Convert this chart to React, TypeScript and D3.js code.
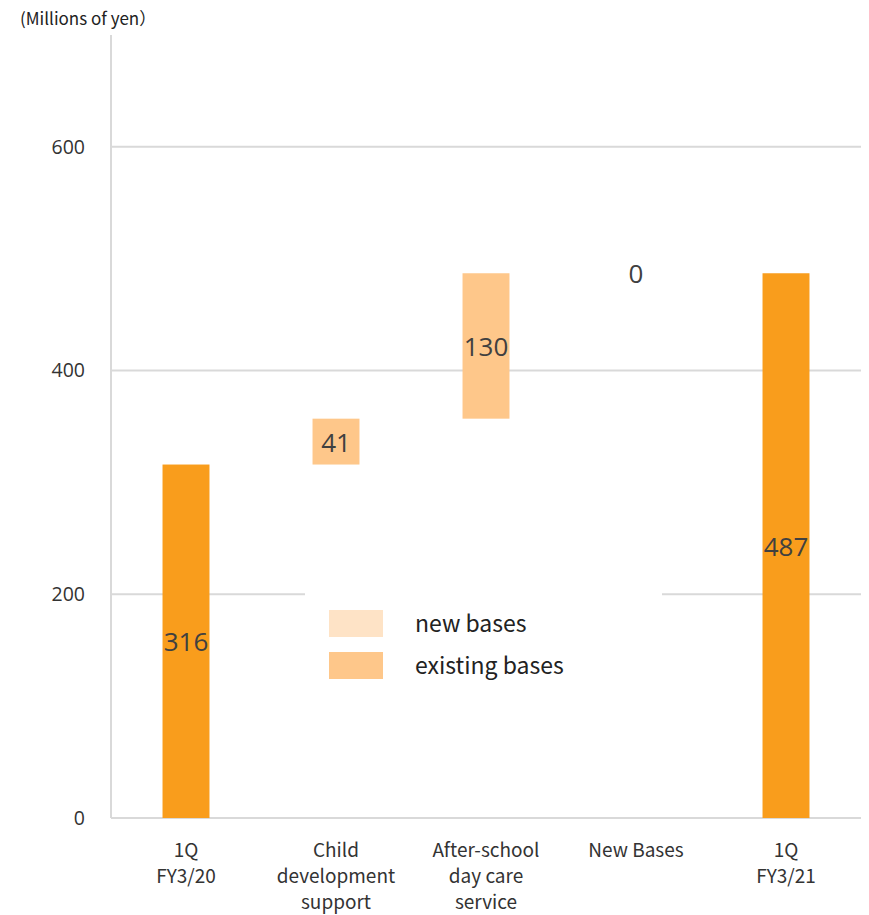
import React from "react";
import * as d3 from "d3";

const categories = ["1Q\nFY3/20", "Child\ndevelopment\nsupport", "After-school\nday care\nservice", "New Bases", "1Q\nFY3/21"];
const baseValues = [0, 316, 357, 487, 0];
const deltaValues = [316, 41, 130, 0, 487];
const barKinds = ["total", "existing", "existing", "new", "total"];
const yTicks = [0, 200, 400, 600];
const legendLabels = ["new bases", "existing bases"];
const legendKinds = ["new", "existing"];
const unitLabel = "(Millions of yen）";

const colors: Record<string, string> = {
  total: "#F99D1C",
  existing: "#FEC78A",
  new: "#FEE3C6",
};

export default function App() {
  const W = 869, H = 915;
  const left = 111, right = 861, top = 35, bottom = 818;
  const x = d3.scaleBand<number>().domain(d3.range(categories.length)).range([left, right]).paddingInner(0.687).paddingOuter(0.3435);
  const y = d3.scaleLinear().domain([0, 700]).range([bottom, top]);
  const font = "'Noto Sans CJK JP', 'Noto Sans', sans-serif";
  const numFont = "'Open Sans', 'Noto Sans', sans-serif";
  return (
    <svg width={W} height={H} style={{ position: "absolute", left: 0, top: 0, background: "#fff" }}>
      <rect width={W} height={H} fill="#fff" />
      <text x={20} y={25} fontFamily={font} fontSize={17} fill="#222">{unitLabel}</text>
      {yTicks.filter(t => t > 0).map(t => (
        <line key={t} x1={left} x2={right} y1={y(t)} y2={y(t)} stroke="#d9d9d9" strokeWidth={2} />
      ))}
      <line x1={left} x2={left} y1={top} y2={bottom} stroke="#d9d9d9" strokeWidth={2} />
      <line x1={left} x2={right} y1={bottom} y2={bottom} stroke="#d9d9d9" strokeWidth={2} />
      {yTicks.map(t => (
        <text key={t} x={85} y={y(t)} dy="0.35em" textAnchor="end" fontFamily={numFont} fontSize={19.5} fill="#333">{t}</text>
      ))}
      <rect x={305} y={589} width={357} height={100} fill="#fff" />
      {legendLabels.map((l, i) => (
        <g key={l}>
          <rect x={329} y={610 + i * 42} width={54} height={27} fill={colors[legendKinds[i]]} />
          <text x={415} y={623.5 + i * 42} dy="0.35em" fontFamily={font} fontSize={23} fill="#222">{l}</text>
        </g>
      ))}
      {categories.map((c, i) => {
        const x0 = x(i)!;
        const y0 = y(baseValues[i] + deltaValues[i]);
        const y1 = y(baseValues[i]);
        return (
          <g key={i}>
            {deltaValues[i] > 0 && (
              <rect x={x0} y={y0} width={x.bandwidth()} height={y1 - y0} fill={colors[barKinds[i]]} />
            )}
            <text x={x0 + x.bandwidth() / 2} y={(y0 + y1) / 2 + 1} dy="0.35em" textAnchor="middle" fontFamily={numFont} fontSize={26} fill="#404040">{deltaValues[i]}</text>
            {c.split("\n").map((ln, j) => (
              <text key={j} x={x0 + x.bandwidth() / 2} y={850 + j * 26} dy="0.35em" textAnchor="middle" fontFamily={font} fontSize={19} fill="#333">{ln}</text>
            ))}
          </g>
        );
      })}
    </svg>
  );
}
